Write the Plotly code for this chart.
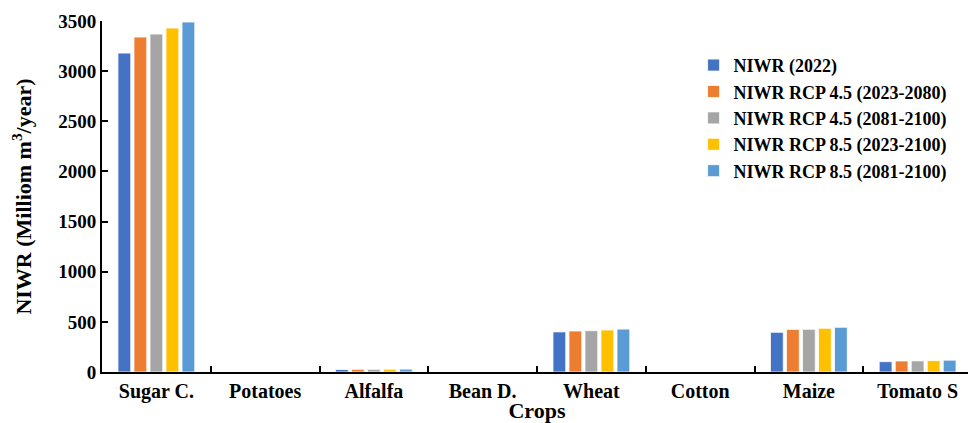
import plotly.graph_objects as go

crops = ["Sugar C.", "Potatoes", "Alfalfa", "Bean D.", "Wheat", "Cotton", "Maize", "Tomato S"]
series_names = ["NIWR (2022)", "NIWR RCP 4.5 (2023-2080)", "NIWR RCP 4.5 (2081-2100)",
                "NIWR RCP 8.5 (2023-2100)", "NIWR RCP 8.5 (2081-2100)"]
niwr_2022 = [3180, 0, 25, 0, 400, 0, 396, 103]
rcp45_2023_2080 = [3340, 0, 27, 0, 409, 0, 425, 110]
rcp45_2081_2100 = [3370, 0, 27, 0, 412, 0, 426, 111]
rcp85_2023_2100 = [3430, 0, 28, 0, 419, 0, 436, 114]
rcp85_2081_2100 = [3490, 0, 29, 0, 428, 0, 446, 118]
colors = ["#4472C4", "#ED7D31", "#A5A5A5", "#FFC000", "#5B9BD5"]
y_ticks = [0, 500, 1000, 1500, 2000, 2500, 3000, 3500]

values = [niwr_2022, rcp45_2023_2080, rcp45_2081_2100, rcp85_2023_2100, rcp85_2081_2100]
font_family = "Times New Roman, Liberation Serif, serif"

fig = go.Figure()
for name, vals, col in zip(series_names, values, colors):
    fig.add_trace(go.Bar(x=crops, y=vals, name=name, marker_color=col,
                         marker_line=dict(color="white", width=0.8)))

# page body has an 8px default margin, so the figure is sized/margined to compensate
fig.update_layout(
    width=968, height=415,
    margin=dict(l=94, r=4, t=13, b=51),
    paper_bgcolor="white", plot_bgcolor="white",
    barmode="group", bargap=0.264, bargroupgap=0.2,
    font=dict(family=font_family, color="black"),
    legend=dict(x=0.68, y=0.724, xanchor="left", yanchor="middle",
                font=dict(size=18, family=font_family, color="black", weight="bold"),
                tracegroupgap=0, itemwidth=30, bgcolor="rgba(0,0,0,0)"),
    showlegend=True,
)
fig.update_xaxes(
    automargin=False,
    showline=True, linecolor="black", linewidth=2,
    ticks="inside", tickson="boundaries", ticklen=6, tickwidth=2, tickcolor="black",
    tickfont=dict(size=20, family=font_family, weight="bold"),
    title=dict(text="Crops", font=dict(size=22, family=font_family, weight="bold"), standoff=12),
    showgrid=False,
)
fig.update_yaxes(
    automargin=False,
    range=[0, 3500], tickvals=y_ticks,
    showline=True, linecolor="black", linewidth=2,
    ticks="inside", ticklen=6, tickwidth=2, tickcolor="black",
    tickfont=dict(size=19, family=font_family, weight="bold"),
    title=dict(text="NIWR (Milliom m<sup>3</sup>/year)",
               font=dict(size=22, family=font_family, weight="bold"), standoff=22),
    showgrid=False, zeroline=False,
)
fig.write_html("out.html")
